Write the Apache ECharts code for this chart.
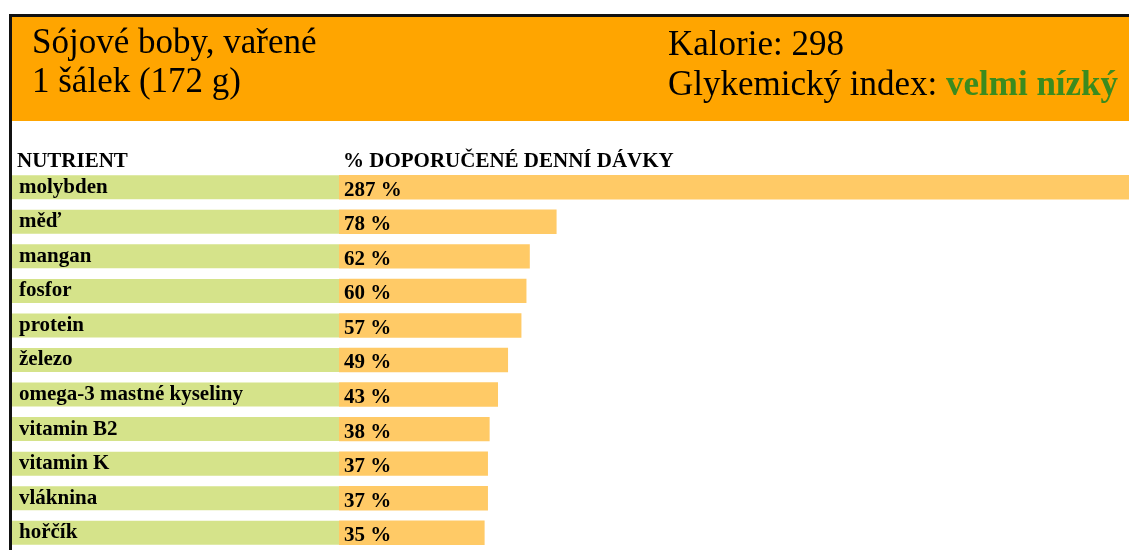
<!DOCTYPE html>
<html>
<head>
<meta charset="utf-8">
<script src="https://cdn.jsdelivr.net/npm/echarts@6/dist/echarts.min.js"></script>
<style>
    html, body { margin: 0; padding: 0; background: #fff; }
    #barChart { width: 1129px; height: 550px; }
</style>
</head>
<body>
<div id="barChart"></div>
<script>
    // data
    var nutrients = ['molybden', 'měď', 'mangan', 'fosfor', 'protein', 'železo',
        'omega-3 mastné kyseliny', 'vitamin B2', 'vitamin K', 'vláknina', 'hořčík'];
    var dailyPercent = [287, 78, 62, 60, 57, 49, 43, 38, 37, 37, 35];

    // osa hodnot: levy okraj sloupce je xMin, nad 100 % jde sloupec pres celou sirku
    var xMin = -52;
    var xMax = 420;
    var fullWidthAbove = 100;

    var serif = '"Liberation Serif", "Times New Roman", serif';

    var barChart = echarts.init(document.getElementById('barChart'));

    var barData = dailyPercent.map(function (v, i) {
        return [v > fullWidthAbove ? xMax : v, i, v];
    });

    barChart.setOption({
        animation: false,
        graphic: [
            // oranzova hlavicka + cerny ramecek
            { type: 'rect', shape: { x: 12, y: 17, width: 1117, height: 104 }, style: { fill: '#ffa500' }, z: -10 },
            { type: 'rect', shape: { x: 9, y: 14, width: 1120, height: 3 }, style: { fill: '#111' } },
            { type: 'rect', shape: { x: 9, y: 14, width: 3, height: 536 }, style: { fill: '#111' } }
        ],
        title: [
            {
                text: 'Sójové boby, vařené\n1 šálek (172 g)',
                left: 32, top: 24, padding: 0,
                textStyle: { fontFamily: serif, fontSize: 35, fontWeight: 'normal', lineHeight: 39, color: '#000' }
            },
            {
                text: 'Kalorie: 298\nGlykemický index: {g|velmi nízký}',
                left: 668, top: 26, padding: 0,
                textStyle: {
                    fontFamily: serif, fontSize: 35, fontWeight: 'normal', lineHeight: 40, color: '#000',
                    rich: {
                        g: { fontFamily: serif, fontSize: 35, fontWeight: 'bold', lineHeight: 40, color: '#3b8b1e' }
                    }
                }
            },
            {
                text: 'NUTRIENT',
                left: 17, top: 152, padding: 0,
                textStyle: { fontFamily: serif, fontSize: 21, fontWeight: 'bold', lineHeight: 20, color: '#000' }
            },
            {
                text: '% DOPORUČENÉ DENNÍ DÁVKY',
                left: 343, top: 152, padding: 0,
                textStyle: { fontFamily: serif, fontSize: 21, fontWeight: 'bold', lineHeight: 20, color: '#000' }
            }
        ],
        grid: {
            left: 339,
            right: 0,
            top: 170,
            height: 381
        },
        xAxis: {
            type: 'value',
            min: xMin,
            max: xMax,
            show: false
        },
        yAxis: {
            type: 'category',
            inverse: true,
            data: nutrients,
            axisLine: { show: false },
            axisTick: { show: false },
            axisLabel: {
                align: 'left',
                margin: 327,
                width: 320,
                height: 18,
                lineHeight: 18,
                padding: [6, 0, 0, 7],
                backgroundColor: '#d5e38a',
                fontFamily: serif,
                fontSize: 21,
                fontWeight: 'bold',
                color: '#000'
            }
        },
        series: [{
            name: '% doporučené denní dávky',
            type: 'custom',
            encode: { x: 0, y: 1 },
            data: barData,
            renderItem: function (params, api) {
                var start = api.coord([xMin, api.value(1)]);
                var end = api.coord([api.value(0), api.value(1)]);
                var h = api.size([0, 1])[1] * 0.707;
                return {
                    type: 'group',
                    children: [{
                        type: 'rect',
                        shape: { x: start[0], y: start[1] - h / 2, width: end[0] - start[0], height: h },
                        style: { fill: '#ffca66' }
                    }, {
                        type: 'text',
                        style: {
                            text: api.value(2) + ' %',
                            x: start[0] + 5,
                            y: start[1] + 3,
                            verticalAlign: 'middle',
                            font: 'bold 21px ' + serif,
                            fill: '#000'
                        }
                    }]
                };
            }
        }]
    });
</script>
</body>
</html>
